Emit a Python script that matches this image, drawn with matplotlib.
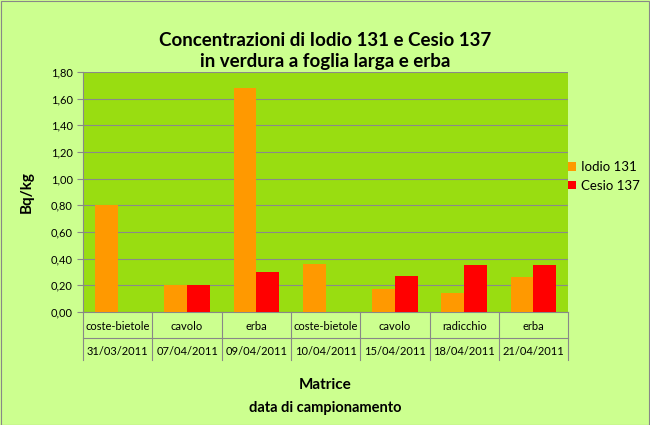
import matplotlib
matplotlib.use("Agg")
import matplotlib.pyplot as plt
import numpy as np

plt.rcParams["font.family"] = ["Lato", "DejaVu Sans"]

matrici = ["coste-bietole", "cavolo", "erba", "coste-bietole", "cavolo", "radicchio", "erba"]
date = ["31/03/2011", "07/04/2011", "09/04/2011", "10/04/2011", "15/04/2011", "18/04/2011", "21/04/2011"]
iodio = [0.80, 0.20, 1.68, 0.36, 0.17, 0.14, 0.26]
cesio = [0.0, 0.20, 0.30, 0.0, 0.27, 0.35, 0.35]
yticks = [0.0, 0.2, 0.4, 0.6, 0.8, 1.0, 1.2, 1.4, 1.6, 1.8]

fig = plt.figure(figsize=(6.5, 4.25), dpi=100, facecolor="#ccff8f")
fig.patches.append(plt.Rectangle((0.001, 0.001), 0.997, 0.997, transform=fig.transFigure,
                                 fill=False, edgecolor="#888888", linewidth=0.8))
ax = fig.add_axes([0.128, 0.266, 0.746, 0.565])
ax.set_facecolor("#99dd11")

x = np.arange(len(matrici))
w = 0.33
ax.bar(x - w / 2, iodio, w, color="#ff9900", label="Iodio 131", zorder=3)
ax.bar(x + w / 2, cesio, w, color="#ff0000", label="Cesio 137", zorder=3)

ax.set_xlim(-0.5, len(matrici) - 0.5)
ax.set_ylim(0, 1.8)
ax.set_yticks(yticks)
ax.set_yticklabels([f"{v:.2f}".replace(".", ",") for v in yticks], fontsize=8)
ax.yaxis.grid(True, color="#8a8a8a", linewidth=0.8, zorder=0)
ax.set_xticks([])
for s in ["top", "right"]:
    ax.spines[s].set_visible(False)
ax.spines["left"].set_color("#888888")
ax.spines["bottom"].set_color("#888888")
ax.tick_params(axis="y", length=4, color="#888888")

trans = ax.get_xaxis_transform()
for i in range(len(matrici)):
    ax.text(i, -0.06, matrici[i], transform=trans, ha="center", va="center", fontsize=8)
    ax.text(i, -0.165, date[i], transform=trans, ha="center", va="center", fontsize=8)
for b in np.arange(len(matrici) + 1) - 0.5:
    ax.plot([b, b], [0, -0.2], transform=trans, color="#888888", linewidth=0.8, clip_on=False)
ax.plot([-0.5, len(matrici) - 0.5], [-0.11, -0.11], transform=trans, color="#888888",
        linewidth=0.8, clip_on=False)

ax.set_ylabel("Bq/kg", fontsize=11, fontweight="bold", labelpad=12)
fig.text(0.5, 0.88, "Concentrazioni di Iodio 131 e Cesio 137\nin verdura a foglia larga e erba",
         ha="center", va="center", fontsize=13.5, fontweight="bold", linespacing=1.35)
fig.text(0.5, 0.095, "Matrice", ha="center", va="center", fontsize=11, fontweight="bold")
fig.text(0.5, 0.04, "data di campionamento", ha="center", va="center", fontsize=10.5, fontweight="bold")

fig.legend(loc="center left", bbox_to_anchor=(0.87, 0.585), frameon=False, fontsize=9.5,
           handlelength=0.6, handleheight=0.6, handletextpad=0.4, labelspacing=0.5,
           borderaxespad=0, borderpad=0.2)

fig.savefig("out.png", dpi=100, facecolor=fig.get_facecolor())
